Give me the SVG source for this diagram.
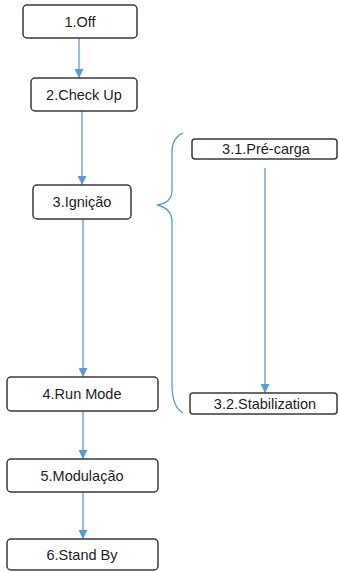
<svg xmlns="http://www.w3.org/2000/svg" width="339" height="571" viewBox="0 0 339 571">
<defs>
<style>
.box{fill:#fff;stroke:#3a3a3a;stroke-width:1.5}
.lbl{font-family:"Liberation Sans",Arial,sans-serif;font-size:14.5px;fill:#1e1e1e;text-anchor:middle}
.con{fill:none;stroke:#5b9bd5;stroke-width:1.3}
</style>
<marker id="ah" viewBox="0 0 10 10" refX="10" refY="5" markerWidth="9" markerHeight="9" markerUnits="userSpaceOnUse" orient="auto">
<path d="M0,0 L10,5 L0,10 z" fill="#5b9bd5"/>
</marker>
</defs>
<rect width="339" height="571" fill="#fff"/>
<g id="connectors">
<line class="con" x1="79" y1="38" x2="79" y2="78" marker-end="url(#ah)"/>
<line class="con" x1="82" y1="111" x2="82" y2="185" marker-end="url(#ah)"/>
<line class="con" x1="83" y1="219" x2="83" y2="377" marker-end="url(#ah)"/>
<line class="con" x1="83" y1="411" x2="83" y2="459" marker-end="url(#ah)"/>
<line class="con" x1="83" y1="492" x2="83" y2="539" marker-end="url(#ah)"/>
<line class="con" x1="265" y1="168" x2="265" y2="393" marker-end="url(#ah)"/>
<path class="con" d="M183,133 C176,136 172,142 172,152 L172,190 C172,199 166,204 157,205 C166,207 172,212 172,222 L172,385 C172,400 176,409 183,413"/>
</g>
<g id="n1"><rect class="box" x="23" y="5" width="114" height="33" rx="4"/><text class="lbl" x="80" y="26.5">1.Off</text></g>
<g id="n2"><rect class="box" x="31" y="78" width="106" height="33" rx="4"/><text class="lbl" x="84" y="99.5">2.Check Up</text></g>
<g id="n3"><rect class="box" x="33" y="185" width="98" height="34" rx="4"/><text class="lbl" x="82" y="207">3.Ignição</text></g>
<g id="n31"><rect class="box" x="192" y="139" width="145" height="20" rx="3"/><text class="lbl" x="266" y="154">3.1.Pré-carga</text></g>
<g id="n32"><rect class="box" x="190" y="393" width="147" height="21" rx="3"/><text class="lbl" x="265" y="408.5">3.2.Stabilization</text></g>
<g id="n4"><rect class="box" x="7" y="377" width="151" height="34" rx="4"/><text class="lbl" x="82" y="399">4.Run Mode</text></g>
<g id="n5"><rect class="box" x="7" y="459" width="151" height="33" rx="4"/><text class="lbl" x="82" y="480.5">5.Modulação</text></g>
<g id="n6"><rect class="box" x="7" y="539" width="151" height="31" rx="4"/><text class="lbl" x="82" y="560">6.Stand By</text></g>
</svg>
